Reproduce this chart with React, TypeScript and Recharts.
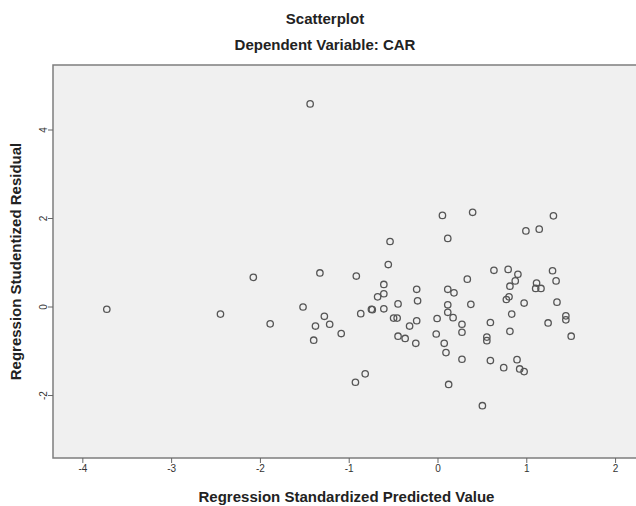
import React from 'react';
import {
  ScatterChart,
  Scatter,
  XAxis,
  YAxis,
  ReferenceArea,
} from 'recharts';

// Regression standardized predicted value (x) and studentized residual (y)
const predicted: number[] = [
  -3.73, -2.45, -2.08, -1.89, -1.52, -1.44,
  0.05, 0.39, 0.11, -0.54, -0.56, -1.33, -0.92, 0.33, -0.61, -0.24,
  0.11, 0.18, -0.61, -0.68, -0.23, -0.45, 0.11, 0.37, -0.75, -0.74,
  -0.61, -0.87, 0.11, -1.28, -0.5, -0.46, 0.17, -0.01, -0.24, -1.22,
  -1.38, -0.32, 0.27, 0.27, -1.09, -0.02, -0.45, -0.37, -1.4, -0.25,
  0.07, 0.09, 0.27, -0.82, -0.93, 0.12,
  1.3, 0.99, 1.14, 0.63, 0.79, 0.9, 1.29, 0.87, 0.81, 1.33,
  1.11, 1.1, 1.16, 0.8, 0.77, 0.97, 1.34, 0.83, 1.44, 1.44,
  0.59, 1.24, 0.81, 0.55, 0.55, 1.5, 0.59, 0.74, 0.89, 0.92,
  0.97, 0.5,
];

const residual: number[] = [
  -0.05, -0.16, 0.67, -0.38, 0.0, 4.59,
  2.07, 2.14, 1.55, 1.48, 0.96, 0.77, 0.7, 0.63, 0.51, 0.4,
  0.4, 0.32, 0.3, 0.23, 0.14, 0.07, 0.05, 0.06, -0.05, -0.06,
  -0.04, -0.15, -0.12, -0.21, -0.25, -0.25, -0.24, -0.26, -0.31, -0.39,
  -0.43, -0.43, -0.39, -0.57, -0.6, -0.61, -0.66, -0.71, -0.75, -0.82,
  -0.82, -1.03, -1.18, -1.51, -1.7, -1.75,
  2.06, 1.72, 1.76, 0.83, 0.85, 0.74, 0.82, 0.59, 0.47, 0.59,
  0.54, 0.42, 0.42, 0.23, 0.17, 0.09, 0.11, -0.16, -0.2, -0.29,
  -0.35, -0.36, -0.55, -0.68, -0.76, -0.66, -1.21, -1.37, -1.19, -1.4,
  -1.46, -2.23,
];

const xTicks = [-4, -3, -2, -1, 0, 1, 2];
const yTicks = [-2, 0, 2, 4];
const xDomain: [number, number] = [-4.336, 2.275];
const yDomain: [number, number] = [-3.412, 5.469];

const data = predicted.map((x, i) => ({ x, y: residual[i] }));

const font = '"Liberation Sans", Arial, sans-serif';

// SPSS draws the y tick labels turned on their side
const YTick = (props: any) => {
  const { y, payload } = props;
  const cx = 47;
  return (
    <text
      x={cx}
      y={y}
      transform={`rotate(-90, ${cx}, ${y})`}
      textAnchor="middle"
      fontSize={10}
      fontFamily={font}
      fill="#333"
    >
      {payload.value}
    </text>
  );
};

const Circle = (props: any) => {
  const { cx, cy } = props;
  return <circle cx={cx} cy={cy} r={3.2} fill="none" stroke="#555" strokeWidth={1.3} />;
};

const App: React.FC = () => {
  return (
    <div
      style={{
        position: 'absolute',
        left: 0,
        top: 0,
        width: 636,
        height: 506,
        overflow: 'hidden',
        background: '#fff',
        fontFamily: font,
      }}
    >
      <div
        style={{
          position: 'absolute',
          top: 10,
          left: 0,
          width: 650,
          textAlign: 'center',
          fontWeight: 'bold',
          fontSize: 15,
          color: '#222',
        }}
      >
        Scatterplot
      </div>
      <div
        style={{
          position: 'absolute',
          top: 36,
          left: 0,
          width: 650,
          textAlign: 'center',
          fontWeight: 'bold',
          fontSize: 15,
          color: '#222',
        }}
      >
        Dependent Variable: CAR
      </div>
      <ScatterChart
        width={650}
        height={506}
        margin={{ top: 65, right: 10, bottom: 18, left: 23 }}
      >
        <ReferenceArea
          x1={xDomain[0]}
          x2={xDomain[1]}
          y1={yDomain[0]}
          y2={yDomain[1]}
          fill="#f0f0f0"
          fillOpacity={1}
          stroke="#7d7d7d"
          strokeWidth={1.5}
        />
        <XAxis
          type="number"
          dataKey="x"
          domain={xDomain}
          ticks={xTicks}
          allowDataOverflow
          axisLine={false}
          tickLine={{ stroke: '#666' }}
          tickSize={5}
          height={30}
          tick={{ fontSize: 10, fill: '#333', fontFamily: font }}
          label={{
            value: 'Regression Standardized Predicted Value',
            position: 'insideBottom',
            offset: -14,
            style: { fontSize: 15, fontWeight: 'bold', fill: '#222', fontFamily: font },
          }}
        />
        <YAxis
          type="number"
          dataKey="y"
          domain={yDomain}
          ticks={yTicks}
          allowDataOverflow
          axisLine={false}
          tickLine={{ stroke: '#666' }}
          tickSize={5}
          width={30}
          tick={<YTick />}
          label={{
            value: 'Regression Studentized Residual',
            angle: -90,
            position: 'insideLeft',
            offset: -7,
            style: { fontSize: 15, fontWeight: 'bold', fill: '#222', fontFamily: font, textAnchor: 'middle' },
          }}
        />
        <Scatter data={data} shape={<Circle />} isAnimationActive={false} />
      </ScatterChart>
    </div>
  );
};

export default App;
